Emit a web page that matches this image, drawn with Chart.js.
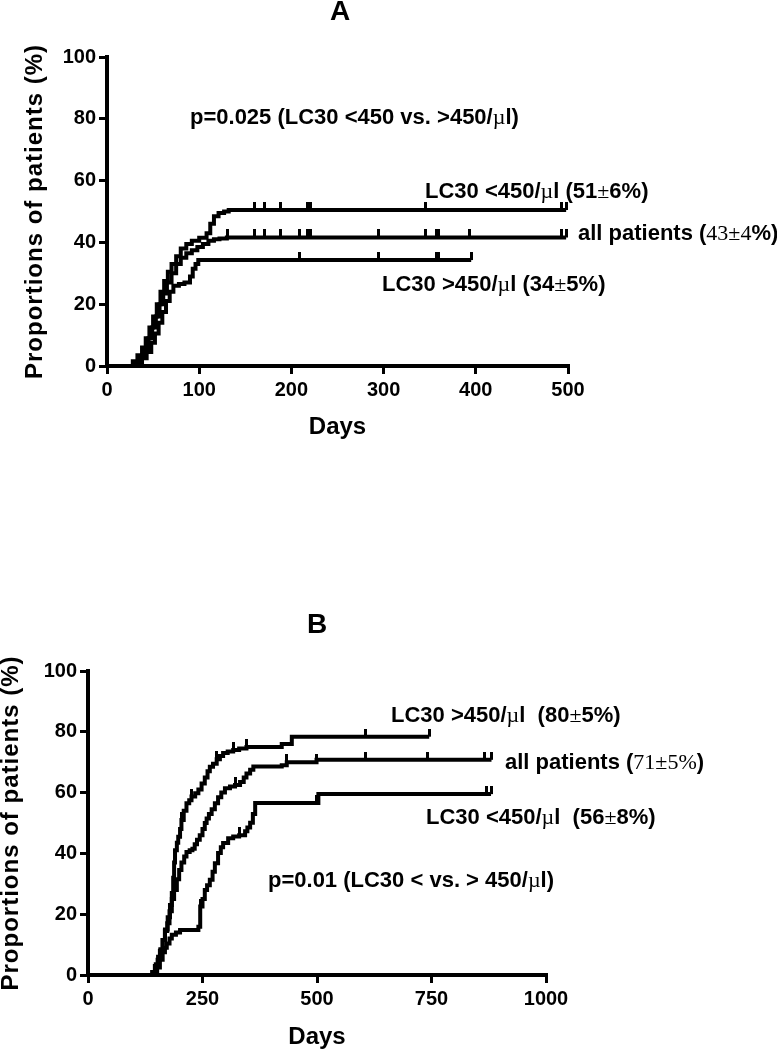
<!DOCTYPE html>
<html><head><meta charset="utf-8">
<script src="https://cdn.jsdelivr.net/npm/chart.js@4.4.1/dist/chart.umd.min.js"></script>
<style>
html,body{margin:0;padding:0;background:#fff}
body{width:777px;height:1050px;position:relative;overflow:hidden}
canvas{position:absolute;left:0}
#ca{top:0}
#cb{top:590px}
</style></head><body>
<canvas id="ca" width="777" height="460"></canvas>
<canvas id="cb" width="777" height="460"></canvas>
<script>
// ---------- Panel A data (days, % of patients) ----------
const aLtDays = [0, 28, 33, 38, 42, 46, 50, 54, 58, 62, 66, 70, 75, 80, 86, 92, 100, 108, 112, 116, 121, 127, 132, 498];
const aLtPct  = [0, 1.5, 3.5, 6, 9, 12.5, 16, 20, 24, 27.5, 30.5, 33, 35.5, 38, 39.5, 40.5, 41.5, 43, 46, 48.5, 49.5, 50, 50.5, 50.5];
const aAllDays = [0, 30, 35, 40, 45, 49, 53, 57, 61, 65, 70, 75, 80, 86, 92, 98, 104, 110, 116, 122, 130, 498];
const aAllPct  = [0, 1, 3, 5.5, 9, 12.5, 16, 20, 23.5, 27, 30, 33, 35, 36.5, 37.5, 38.5, 39.5, 40.5, 41, 41.3, 41.6, 41.6];
const aGtDays = [0, 32, 38, 43, 48, 52, 56, 60, 64, 68, 72, 78, 84, 90, 93, 96, 99, 395];
const aGtPct  = [0, 0.5, 2.5, 4.5, 7.5, 10.5, 14, 17.5, 21, 24, 26, 26.5, 27, 29, 31.5, 33, 34.3, 34.3];
const aLtCens  = [160, 171, 188, 217, 221, 345, 493, 498];
const aAllCens = [131, 160, 171, 188, 209, 217, 221, 295, 345, 357, 360, 393, 493, 498];
const aGtCens  = [209, 295, 357, 360, 395];
const aXTicks = [0, 100, 200, 300, 400, 500];

// ---------- Panel B data ----------
const bGtDays = [0, 140, 146, 152, 157, 163, 168, 174, 179, 183, 186, 188, 190, 194, 197, 201, 204, 209, 215, 221, 226, 234, 241, 248, 255, 261, 266, 273, 281, 288, 295, 305, 317, 330, 346, 423, 445, 745];
const bGtPct  = [0, 1, 3, 5, 8, 11.5, 15, 19, 23, 27, 32, 37, 41, 43.5, 45.5, 48, 51, 54, 56.5, 57.5, 58.7, 59.8, 61, 63, 65, 67, 68.5, 69.5, 71, 72, 73, 73.5, 74, 74.5, 75, 76, 78.4, 78.4];
const bAllDays = [0, 143, 148, 153, 158, 163, 168, 173, 178, 183, 188, 194, 199, 204, 210, 215, 222, 228, 233, 238, 244, 250, 255, 259, 264, 270, 277, 284, 291, 299, 310, 321, 332, 340, 346, 354, 361, 423, 434, 499, 881];
const bAllPct  = [0, 1, 3.5, 6, 8.5, 11.5, 14.5, 17, 21, 25, 28, 31.5, 34.5, 37, 39, 40.5, 41, 41.5, 43, 44.5, 46, 48, 50, 51.5, 53, 54.5, 56.5, 58.5, 60, 61.4, 62, 62.5, 63.5, 65, 66.3, 67.5, 68.6, 69, 70, 70.8, 70.8];
const bLtDays = [0, 146, 151, 157, 163, 168, 172, 178, 183, 192, 201, 241, 245, 250, 255, 260, 266, 272, 277, 284, 290, 295, 306, 317, 330, 343, 348, 354, 360, 365, 503, 880];
const bLtPct  = [0, 0.5, 2.5, 5, 7.5, 9, 10.4, 12, 13.2, 14, 14.8, 15.9, 22.5, 25, 28, 29.5, 31.3, 34, 36.8, 40.1, 42, 43.4, 45, 45.6, 46, 47.3, 48.5, 50.1, 53, 56.6, 59.5, 59.5];
const bGtCens  = [204, 226, 281, 317, 346, 606, 745];
const bAllCens = [321, 434, 498, 606, 741, 865, 881];
const bLtCens  = [245, 330, 498, 870, 880];
const bXTicks = [0, 250, 500, 750, 1000];

const yTicks = [0, 20, 40, 60, 80, 100];
const yTitle = 'Proportions of patients (%)';
const xTitle = 'Days';

// text annotations: [text, 'b' bold sans | 's' serif]
const aNotes = [
  [['p=0.025 (LC30 <450 vs. >450/','b'],['µ','s'],['l)','b']],
  [['LC30 <450/','b'],['µ','s'],['l (51','b'],['±','s'],['6%)','b']],
  [['all patients (','b'],['43±4','s'],['%)','b']],
  [['LC30 >450/','b'],['µ','s'],['l (34','b'],['±','s'],['5%)','b']]
];
const bNotes = [
  [['LC30 >450/','b'],['µ','s'],['l  (80','b'],['±','s'],['5%)','b']],
  [['all patients (','b'],['71±5%','s'],[')','b']],
  [['LC30 <450/','b'],['µ','s'],['l  (56','b'],['±','s'],['8%)','b']],
  [['p=0.01 (LC30 < vs. > 450/','b'],['µ','s'],['l)','b']]
];

// ---------- helpers ----------
const SANS = '"Liberation Sans", Arial, sans-serif';
const SERIF = '"Liberation Serif", "Times New Roman", serif';

function pts(days, pct) { return days.map((d, i) => ({x: d, y: pct[i]})); }
function levelAt(days, pct, d) { let v = 0; for (let i = 0; i < days.length; i++) if (days[i] <= d) v = pct[i]; return v; }
function censPts(c, days, pct) { return c.map(d => ({x: d, y: levelAt(days, pct, d)})); }

const tickImg = document.createElement('canvas');
tickImg.width = 3; tickImg.height = 16;
(function(){ const c = tickImg.getContext('2d'); c.fillStyle = '#000'; c.fillRect(0, 0, 3, 8); })();

function lineDs(days, pct) {
  return {data: pts(days, pct), borderColor: '#000', borderWidth: 4, pointRadius: 0, pointHoverRadius: 0,
    stepped: 'before', fill: false, clip: false, borderCapStyle: 'butt', borderJoinStyle: 'miter'};
}
function censDs(c, days, pct) {
  return {data: censPts(c, days, pct), showLine: false, pointStyle: tickImg, pointRadius: 4, clip: false,
    borderColor: '#000', backgroundColor: '#000'};
}

function textPlugin(spec) {
  return {
    id: 'txt' + spec.title,
    afterDraw(chart) {
      const ctx = chart.ctx, ca = chart.chartArea;
      ctx.save();
      ctx.fillStyle = '#000';
      ctx.textBaseline = 'alphabetic';
      ctx.textAlign = 'center';
      ctx.font = 'bold 28px ' + SANS;
      ctx.fillText(spec.title, spec.titleX, spec.titleY);
      ctx.font = 'bold 24px ' + SANS;
      ctx.fillText(xTitle, (ca.left + ca.right) / 2, spec.xTitleY);
      ctx.save();
      ctx.translate(spec.yTitleX, (ca.top + ca.bottom) / 2);
      ctx.rotate(-Math.PI / 2);
      ctx.letterSpacing = '1px';
      ctx.fillText(yTitle, 0, 0);
      ctx.restore();
      ctx.textAlign = 'left';
      spec.notes.forEach((runs, i) => {
        let x = spec.pos[i][0];
        const y = spec.pos[i][1];
        runs.forEach(r => {
          ctx.font = r[1] === 's' ? '22px ' + SERIF : 'bold 22px ' + SANS;
          ctx.fillText(r[0], x, y);
          x += ctx.measureText(r[0]).width;
        });
      });
      ctx.restore();
    }
  };
}

function axis(ticksArr, max, fit, isX, pad) {
  return {
    type: 'linear', min: 0, max: max,
    afterBuildTicks: s => { s.ticks = ticksArr.map(v => ({value: v})); },
    afterFit: s => { if (isX) s.height = fit; else s.width = fit; },
    ticks: {font: {family: SANS, weight: 'bold', size: 20}, color: '#000', padding: pad,
      maxRotation: 0, autoSkip: false, callback: v => String(v)},
    grid: {drawOnChartArea: false, drawTicks: true, tickLength: 8, lineWidth: 3, tickWidth: 3,
      color: '#000', tickColor: '#000'},
    border: {display: true, width: 4, color: '#000'}
  };
}

function makeChart(id, cfg) {
  return new Chart(document.getElementById(id), {
    type: 'line',
    data: {datasets: cfg.datasets},
    options: {
      responsive: false, animation: false, devicePixelRatio: 1,
      layout: {padding: {top: cfg.top, right: cfg.right, left: 0, bottom: 0}},
      plugins: {legend: {display: false}, tooltip: {enabled: false}},
      scales: {
        x: axis(cfg.xTicks, cfg.xMax, cfg.xH, true, 4),
        y: axis(yTicks, 100, cfg.yW, false, 3)
      }
    },
    plugins: [textPlugin(cfg.text)]
  });
}

makeChart('ca', {
  top: 57, right: 209, xH: 94, yW: 107, xMax: 500, xTicks: aXTicks,
  datasets: [
    lineDs(aLtDays, aLtPct), lineDs(aAllDays, aAllPct), lineDs(aGtDays, aGtPct),
    censDs(aLtCens, aLtDays, aLtPct), censDs(aAllCens, aAllDays, aAllPct), censDs(aGtCens, aGtDays, aGtPct)
  ],
  text: {title: 'A', titleX: 340, titleY: 20, xTitleY: 434, yTitleX: 42, notes: aNotes,
    pos: [[190, 124], [425, 198], [578, 240], [382, 291]]}
});

makeChart('cb', {
  top: 81, right: 231, xH: 75, yW: 88, xMax: 1000, xTicks: bXTicks,
  datasets: [
    lineDs(bGtDays, bGtPct), lineDs(bAllDays, bAllPct), lineDs(bLtDays, bLtPct),
    censDs(bGtCens, bGtDays, bGtPct), censDs(bAllCens, bAllDays, bAllPct), censDs(bLtCens, bLtDays, bLtPct)
  ],
  text: {title: 'B', titleX: 317, titleY: 43, xTitleY: 454, yTitleX: 18, notes: bNotes,
    pos: [[391, 132], [505, 179], [426, 234], [268, 297]]}
});
</script>
</body></html>
